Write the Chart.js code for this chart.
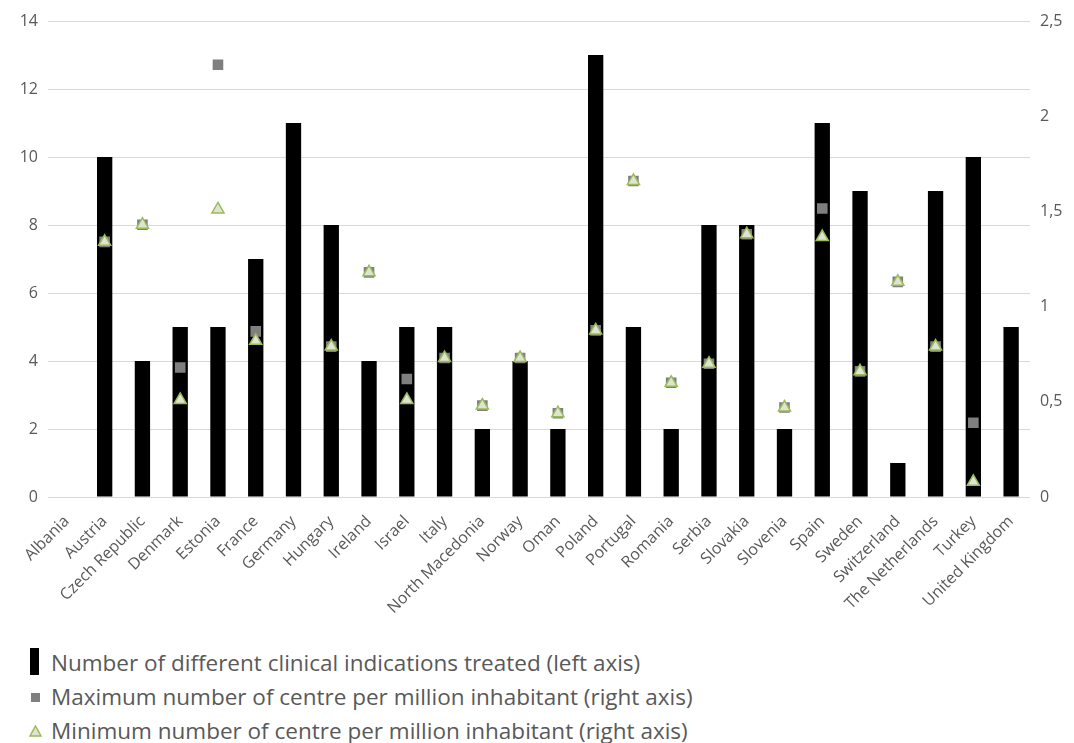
<!DOCTYPE html>
<html>
<head>
<meta charset="utf-8">
<script src="https://cdn.jsdelivr.net/npm/chart.js@4.4.1/dist/chart.umd.min.js"></script>
<style>
  html, body { margin: 0; padding: 0; background: #ffffff; }
  #wrap { position: relative; width: 1074px; height: 743px; }
  #chart { position: absolute; left: 0; top: 0; }
  .leg { position: absolute; left: 0; font-family: "Open Sans", sans-serif; font-size: 22.5px; color: #595959; white-space: nowrap; }
  .leg span.t { position: absolute; left: 51px; top: 0; line-height: 26px; }
  .glyph { position: absolute; }
</style>
</head>
<body>
<div id="wrap">
  <canvas id="chart" width="1074" height="640"></canvas>
  <div class="leg" style="top:650px;">
    <div class="glyph" style="left:30px; top:-2px; width:9px; height:27px; background:#000;"></div>
    <span class="t">Number of different clinical indications treated (left axis)</span>
  </div>
  <div class="leg" style="top:684px;">
    <div class="glyph" style="left:31px; top:9px; width:9px; height:9px; background:#7f7f7f;"></div>
    <span class="t">Maximum number of centre per million inhabitant (right axis)</span>
  </div>
  <div class="leg" style="top:718px;">
    <svg class="glyph" style="left:29px; top:7px;" width="13" height="12" viewBox="0 0 13 12">
      <polygon points="6.5,1 12,11 1,11" fill="#dfe3d2" stroke="#9bbb59" stroke-width="1.5"/>
    </svg>
    <span class="t">Minimum number of centre per million inhabitant (right axis)</span>
  </div>
</div>
<script>
const countries = ["Albania", "Austria", "Czech Republic", "Denmark", "Estonia", "France", "Germany", "Hungary", "Ireland", "Israel", "Italy", "North Macedonia", "Norway", "Oman", "Poland", "Portugal", "Romania", "Serbia", "Slovakia", "Slovenia", "Spain", "Sweden", "Switzerland", "The Netherlands", "Turkey", "United Kingdom"];

// number of different clinical indications treated (left axis)
const indications = [0, 10, 4, 5, 5, 7, 11, 8, 4, 5, 5, 2, 4, 2, 13, 5, 2, 8, 8, 2, 11, 9, 1, 9, 10, 5];

// centres per million inhabitants (right axis)
const maxCentres = [null, 1.34, 1.43, 0.68, 2.27, 0.87, null, 0.79, 1.18, 0.62, 0.73, 0.48, 0.73, 0.44, 0.875, 1.66, 0.60, 0.70, 1.38, 0.47, 1.515, 0.66, 1.13, 0.79, 0.39, null];
const minCentres = [null, 1.34, 1.43, 0.51, 1.51, 0.82, null, 0.79, 1.18, 0.51, 0.73, 0.48, 0.73, 0.44, 0.875, 1.66, 0.60, 0.70, 1.38, 0.47, 1.365, 0.66, 1.13, 0.79, 0.08, null];

const leftTicks = [0, 2, 4, 6, 8, 10, 12, 14];
const rightTicks = ["0", "0,5", "1", "1,5", "2", "2,5"];

const tickFont = { family: "'Open Sans', sans-serif", size: 16 };
const textColor = "#595959";

new Chart(document.getElementById("chart"), {
  type: "bar",
  data: {
    labels: countries,
    datasets: [
      {
        label: "Number of different clinical indications treated (left axis)",
        data: indications,
        backgroundColor: "#000000",
        borderColor: "#000000",
        barPercentage: 0.78,
        categoryPercentage: 0.52,
        yAxisID: "y",
        order: 3
      },
      {
        type: "line",
        label: "Maximum number of centre per million inhabitant (right axis)",
        data: maxCentres,
        showLine: false,
        pointStyle: "rect",
        pointRadius: 7.5,
        pointBackgroundColor: "#7f7f7f",
        pointBorderColor: "#7f7f7f",
        pointBorderWidth: 0,
        yAxisID: "y1",
        order: 2
      },
      {
        type: "line",
        label: "Minimum number of centre per million inhabitant (right axis)",
        data: minCentres,
        showLine: false,
        pointStyle: "triangle",
        pointRadius: 7,
        pointBackgroundColor: "#dfe3d2",
        pointBorderColor: "#9bbb59",
        pointBorderWidth: 1.5,
        yAxisID: "y1",
        order: 1
      }
    ]
  },
  options: {
    responsive: false,
    animation: false,
    layout: { padding: { top: 21, left: 0, right: 0, bottom: 0 } },
    plugins: { legend: { display: false }, tooltip: { enabled: false } },
    scales: {
      x: {
        grid: { display: false, drawTicks: false },
        border: { display: false },
        ticks: { color: textColor, font: tickFont, maxRotation: 45, minRotation: 45, autoSkip: false, padding: 15 },
        afterFit: (s) => { s.height = 143; }
      },
      y: {
        position: "left",
        min: 0, max: 14,
        afterBuildTicks: (s) => { s.ticks = leftTicks.map(v => ({ value: v })); },
        grid: { color: "#d9d9d9", lineWidth: 1, drawTicks: false },
        border: { display: false },
        ticks: { color: textColor, font: tickFont, padding: 10 },
        afterFit: (s) => { s.width = 48; }
      },
      y1: {
        position: "right",
        min: 0, max: 2.5,
        afterBuildTicks: (s) => { s.ticks = rightTicks.map((t, i) => ({ value: i * 0.5 })); },
        grid: { display: false, drawTicks: false },
        border: { display: false },
        ticks: {
          color: textColor, font: tickFont, padding: 10,
          callback: (v, i) => rightTicks[i]
        },
        afterFit: (s) => { s.width = 44; }
      }
    }
  }
});
</script>
</body>
</html>
